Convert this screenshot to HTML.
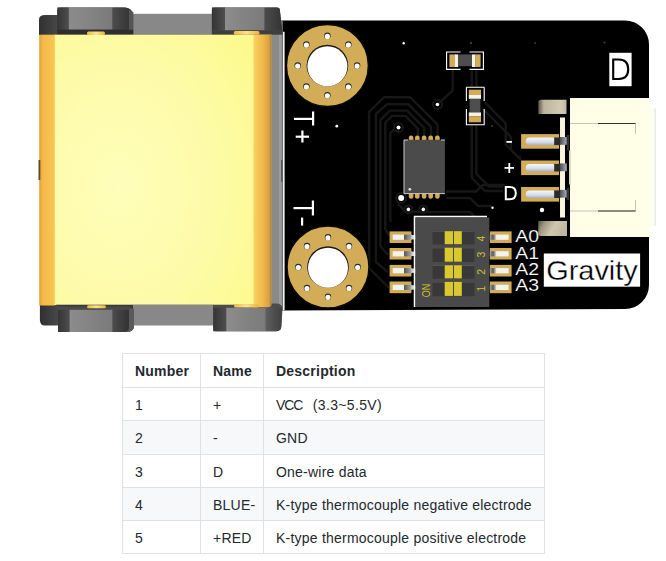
<!DOCTYPE html>
<html><head><meta charset="utf-8">
<style>
html,body{margin:0;padding:0;background:#fff;width:666px;height:561px;overflow:hidden;position:relative;font-family:"Liberation Sans",sans-serif;}
svg.pcb{position:absolute;left:0;top:0;}
table{position:absolute;left:122px;top:353px;border-collapse:collapse;font-size:14px;color:#24292e;}
td,th{border:1px solid #dfe2e5;padding:2px 0 0 12px;height:auto;text-align:left;white-space:nowrap;}
th{font-weight:bold;}
tr.g td{background:#f6f8fa;}
td,th{letter-spacing:0.22px;}
</style></head><body>
<svg class="pcb" width="666" height="340" viewBox="0 0 666 340">
<defs>
<radialGradient id="gY" cx="0.32" cy="0.56" r="0.85" fx="0.32" fy="0.56">
<stop offset="0" stop-color="#fffeba"/><stop offset="0.55" stop-color="#fdfba8"/><stop offset="1" stop-color="#fcfa8c"/></radialGradient>
<linearGradient id="gDk" x1="0" x2="1"><stop offset="0" stop-color="#303030"/><stop offset="1" stop-color="#484848"/></linearGradient>
<linearGradient id="gNutL" x1="0" x2="1"><stop offset="0" stop-color="#2e2e2e"/><stop offset="0.15" stop-color="#505050"/><stop offset="0.8" stop-color="#444"/><stop offset="1" stop-color="#2f2f2f"/></linearGradient>
<linearGradient id="gFace" x1="0" x2="1"><stop offset="0" stop-color="#8c8c8c"/><stop offset="1" stop-color="#7a7a7a"/></linearGradient>
<linearGradient id="gSL" x1="0" x2="1"><stop offset="0" stop-color="#353535"/><stop offset="1" stop-color="#4e4e4e"/></linearGradient>
<linearGradient id="gSR" x1="0" x2="1"><stop offset="0" stop-color="#4c4c4c"/><stop offset="1" stop-color="#333"/></linearGradient>
<linearGradient id="gSR2" x1="0" x2="1"><stop offset="0" stop-color="#5e5e5e"/><stop offset="1" stop-color="#404040"/></linearGradient>
<linearGradient id="gBump" x1="0" x2="1"><stop offset="0" stop-color="#f0b848"/><stop offset="0.5" stop-color="#fbe48a"/><stop offset="1" stop-color="#eab040"/></linearGradient>
<linearGradient id="gOL" x1="0" x2="1"><stop offset="0" stop-color="#e2a038"/><stop offset="0.25" stop-color="#f4ba48"/><stop offset="1" stop-color="#f8c654"/></linearGradient>
<linearGradient id="gOR" x1="0" x2="1"><stop offset="0" stop-color="#fad264"/><stop offset="0.5" stop-color="#f2b848"/><stop offset="0.85" stop-color="#d9a040"/><stop offset="1" stop-color="#9a7a40"/></linearGradient>
<linearGradient id="gNut" x1="0" x2="1"><stop offset="0" stop-color="#333"/><stop offset="1" stop-color="#4a4a4a"/></linearGradient>
<linearGradient id="gPin" x1="0" y1="0" x2="0" y2="1"><stop offset="0" stop-color="#f4f6fc"/><stop offset="0.6" stop-color="#d8dcea"/><stop offset="1" stop-color="#a8b0c4"/></linearGradient>
<linearGradient id="gLeadL" x1="0" x2="1"><stop offset="0" stop-color="#555"/><stop offset="1" stop-color="#b0b0b0"/></linearGradient>
<linearGradient id="gLeadR" x1="0" x2="1"><stop offset="0" stop-color="#a8a8a8"/><stop offset="0.5" stop-color="#555"/><stop offset="1" stop-color="#ddd"/></linearGradient>
<linearGradient id="gBlk" x1="0" x2="1"><stop offset="0" stop-color="#4a4e58"/><stop offset="1" stop-color="#a8acb6"/></linearGradient>
<linearGradient id="gTab" x1="0" y1="0" x2="1" y2="0"><stop offset="0" stop-color="#5a5548"/><stop offset="0.2" stop-color="#bdb59e"/><stop offset="0.8" stop-color="#d2cab2"/><stop offset="1" stop-color="#c0b8a0"/></linearGradient>
<linearGradient id="gTab2" x1="0" y1="0" x2="1" y2="0.3"><stop offset="0" stop-color="#5a5548"/><stop offset="0.25" stop-color="#9f9782"/><stop offset="0.6" stop-color="#cfc7ae"/><stop offset="1" stop-color="#bfb79f"/></linearGradient>
</defs>
<!-- PCB board -->
<path d="M282,20.5 H625 A24,24 0 0 1 649,44.5 V285 A24,24 0 0 1 625,309 L282,310.5 Z" fill="#000"/>
<!-- traces -->
<g fill="none" stroke="#171717" stroke-width="2.4" stroke-linejoin="round">
<path d="M390.3,222 V133 L395,128.5"/>
<path d="M369.1,268 V111.8 L384.1,97.2 H410 L437.5,124.5 V136"/>
<path d="M375.9,252 V114 L386.8,104.3 H408.5 L431,126.8 V136"/>
<path d="M380.4,240 V120 L389.8,110.6 H407 L424.3,128 V136"/>
<path d="M385.3,230 V123 L391.9,115.9 H405.5 L417.8,128.5 V136"/>
<path d="M369.1,268 L389,288"/>
<path d="M375.9,252 V262 L388,272"/>
<path d="M380.4,240 V246 L388,255"/>
<path d="M385.3,230 L390,236"/>
<path d="M452.7,70 V90.3 L437.5,104.6"/>
<path d="M471.8,70 V87 M476.4,70 V87"/>
<path d="M471.8,124.5 V178 L485,191 H503"/>
<path d="M476.4,124.5 V174 L489,186.5 H503"/>
<path d="M484.5,102 L505.7,123.5 V144.5 L518,157 H521"/>
<path d="M483,109 L511,137 V150 L521,160"/>
<path d="M446,191.5 H476 L483,185 H505"/>
<path d="M446,198 H470 L478,206 H492"/>
<path d="M398,204 L406,212 H470 L488,230"/>
</g>
<g fill="none" stroke="#171717" stroke-width="2">
<circle cx="398.4" cy="127.5" r="4.5"/><circle cx="437.5" cy="104.6" r="4.5"/>
<circle cx="408.4" cy="209.4" r="4"/><circle cx="423.3" cy="209.4" r="4"/><circle cx="401.2" cy="198" r="5"/>
</g>
<!-- pads -->
<circle cx="327.4" cy="65.5" r="41" fill="#d3ac58" stroke="#0a0a0a" stroke-width="1.5"/>
<circle cx="327.4" cy="65.5" r="20.8" fill="#1a1a1a"/><circle cx="327.4" cy="66.3" r="20" fill="#fff"/>
<circle cx="327.4" cy="35.8" r="3.2" fill="#2a2a2a"/><circle cx="327.4" cy="36.4" r="2.6" fill="#fff"/>
<circle cx="348.4" cy="44.5" r="3.2" fill="#2a2a2a"/><circle cx="348.4" cy="45.1" r="2.6" fill="#fff"/>
<circle cx="357.1" cy="65.5" r="3.2" fill="#2a2a2a"/><circle cx="357.1" cy="66.1" r="2.6" fill="#fff"/>
<circle cx="348.4" cy="86.5" r="3.2" fill="#2a2a2a"/><circle cx="348.4" cy="87.1" r="2.6" fill="#fff"/>
<circle cx="327.4" cy="95.2" r="3.2" fill="#2a2a2a"/><circle cx="327.4" cy="95.8" r="2.6" fill="#fff"/>
<circle cx="306.4" cy="86.5" r="3.2" fill="#2a2a2a"/><circle cx="306.4" cy="87.1" r="2.6" fill="#fff"/>
<circle cx="297.7" cy="65.5" r="3.2" fill="#2a2a2a"/><circle cx="297.7" cy="66.1" r="2.6" fill="#fff"/>
<circle cx="306.4" cy="44.5" r="3.2" fill="#2a2a2a"/><circle cx="306.4" cy="45.1" r="2.6" fill="#fff"/>
<circle cx="328" cy="267" r="41" fill="#d3ac58" stroke="#0a0a0a" stroke-width="1.5"/>
<circle cx="328" cy="267" r="20.8" fill="#1a1a1a"/><circle cx="328" cy="267.8" r="20" fill="#fff"/>
<circle cx="328.0" cy="237.3" r="3.2" fill="#2a2a2a"/><circle cx="328.0" cy="237.9" r="2.6" fill="#fff"/>
<circle cx="349.0" cy="246.0" r="3.2" fill="#2a2a2a"/><circle cx="349.0" cy="246.6" r="2.6" fill="#fff"/>
<circle cx="357.7" cy="267.0" r="3.2" fill="#2a2a2a"/><circle cx="357.7" cy="267.6" r="2.6" fill="#fff"/>
<circle cx="349.0" cy="288.0" r="3.2" fill="#2a2a2a"/><circle cx="349.0" cy="288.6" r="2.6" fill="#fff"/>
<circle cx="328.0" cy="296.7" r="3.2" fill="#2a2a2a"/><circle cx="328.0" cy="297.3" r="2.6" fill="#fff"/>
<circle cx="307.0" cy="288.0" r="3.2" fill="#2a2a2a"/><circle cx="307.0" cy="288.6" r="2.6" fill="#fff"/>
<circle cx="298.3" cy="267.0" r="3.2" fill="#2a2a2a"/><circle cx="298.3" cy="267.6" r="2.6" fill="#fff"/>
<circle cx="307.0" cy="246.0" r="3.2" fill="#2a2a2a"/><circle cx="307.0" cy="246.6" r="2.6" fill="#fff"/>
<!-- T labels -->
<g fill="#fff">
<rect x="294" y="117.8" width="20" height="2.2"/><rect x="312" y="111.5" width="2.2" height="14"/>
<rect x="295.7" y="135.6" width="13.3" height="2.2"/><rect x="301.3" y="130.5" width="2.2" height="12"/>
<rect x="293.5" y="207" width="20" height="2.2"/><rect x="311.8" y="200.5" width="2.2" height="15"/>
<rect x="301" y="217.6" width="2.2" height="8"/>
</g>
<!-- vias -->
<g fill="#fff">
<circle cx="403.7" cy="43.2" r="1.2"/><circle cx="437.4" cy="104.5" r="1.8"/><circle cx="398.5" cy="127.5" r="2"/>
<circle cx="400" cy="128.4" r="0"/><circle cx="401.2" cy="198" r="3"/><circle cx="408.4" cy="209.4" r="1.8"/><circle cx="423.3" cy="209.4" r="1.8"/>
<circle cx="542" cy="210" r="2.2"/><circle cx="336.8" cy="126.2" r="1.4"/><circle cx="492.5" cy="207.8" r="1.2"/>
</g>
<g fill="#3a3a3a"><circle cx="471" cy="43" r="1.2"/><circle cx="492" cy="126" r="1"/><circle cx="604.5" cy="42.6" r="1.1"/><circle cx="535" cy="43" r="1"/></g>
<!-- horizontal resistor -->
<g fill="none" stroke="#fff" stroke-width="1.1">
<path d="M460.5,52 H446.6 V69.4 H460.5"/>
<path d="M469.5,52 H483.4 V69.4 H469.5"/>
<path d="M466.4,87.3 V101 M484.2,87.3 V101 M466.4,87.3 H484.2"/>
<path d="M466.4,109 V124.8 H484.2 V109"/>
</g>
<rect x="449.4" y="54.4" width="6.5" height="12.6" fill="#d3ac58"/>
<rect x="455" y="54.4" width="3.2" height="12.6" fill="#f6f2e8"/>
<rect x="458" y="54.4" width="14" height="11.8" fill="#4e4e4e"/>
<rect x="472" y="54.4" width="3.6" height="12.6" fill="#f6f2e8"/>
<rect x="475.4" y="54.4" width="5.2" height="12.6" fill="#d3ac58"/>
<!-- vertical resistor -->
<rect x="468.8" y="89.7" width="12.2" height="5.5" fill="#d3ac58"/>
<rect x="468.8" y="95" width="12.2" height="3.9" fill="#f6f2e8"/>
<rect x="469.6" y="98.8" width="10.8" height="13.6" fill="#4e4e4e"/>
<rect x="468.8" y="112.4" width="12.2" height="3.9" fill="#f6f2e8"/>
<rect x="468.8" y="116.2" width="12.2" height="6.1" fill="#d3ac58"/>
<!-- chip -->
<rect x="408.8" y="135.4" width="4.6" height="7" rx="2.2" fill="#d3ac58"/><rect x="408.8" y="191.8" width="4.6" height="7" rx="2.2" fill="#d3ac58"/>
<rect x="415.0" y="135.4" width="4.6" height="7" rx="2.2" fill="#d3ac58"/><rect x="415.0" y="191.8" width="4.6" height="7" rx="2.2" fill="#d3ac58"/>
<rect x="421.8" y="135.4" width="4.6" height="7" rx="2.2" fill="#d3ac58"/><rect x="421.8" y="191.8" width="4.6" height="7" rx="2.2" fill="#d3ac58"/>
<rect x="428.4" y="135.4" width="4.6" height="7" rx="2.2" fill="#d3ac58"/><rect x="428.4" y="191.8" width="4.6" height="7" rx="2.2" fill="#d3ac58"/>
<rect x="435.1" y="135.4" width="4.6" height="7" rx="2.2" fill="#d3ac58"/><rect x="435.1" y="191.8" width="4.6" height="7" rx="2.2" fill="#d3ac58"/>
<rect x="403.9" y="139.8" width="41" height="53.8" fill="#4b4b4b"/>
<path d="M404,140 V193.6 H444.9" fill="none" stroke="#c8c8c8" stroke-width="1"/>
<path d="M404,140 H408 M441,140 H444.9" fill="none" stroke="#c8c8c8" stroke-width="1"/>
<circle cx="409.8" cy="189.3" r="1.4" fill="#e0e0e0"/>
<!-- +,-,D labels -->
<g fill="#fff">
<rect x="506.5" y="141" width="5.5" height="1.8"/>
<rect x="504.5" y="167" width="9.5" height="1.8"/><rect x="508.4" y="163" width="1.8" height="10"/>
</g>
<path d="M505.8,187 H509.8 C514.6,187 515.8,190.2 515.8,193.2 C515.8,196.2 514.6,199.2 509.8,199.2 H505.8 Z" fill="none" stroke="#fff" stroke-width="2"/>
<!-- JST connector pins -->
<path d="M538.3,101.5 Q538.3,99.7 541,99.7 H566.5 V113.9 H538.3 Z" fill="url(#gTab)"/>
<path d="M538.3,221 H567 V236 H541 Q538.3,236 538.3,234 Z" fill="url(#gTab2)"/>
<rect x="560" y="117.5" width="5" height="100" fill="#f8f4dc"/>
<rect x="521.1" y="134.1" width="38" height="14.6" fill="#d3ac58"/>
<rect x="525.8" y="137.5" width="30" height="7.6" rx="3.8" fill="url(#gPin)"/>
<rect x="554.2" y="137.5" width="6" height="7.6" fill="#2a2a2a"/>
<rect x="521.1" y="160.5" width="38" height="14.6" fill="#d3ac58"/>
<rect x="525.8" y="163.9" width="30" height="7.6" rx="3.8" fill="url(#gPin)"/>
<rect x="554.2" y="163.9" width="6" height="7.6" fill="#2a2a2a"/>
<rect x="521.1" y="187" width="38" height="14.6" fill="#d3ac58"/>
<rect x="525.8" y="190.4" width="30" height="7.6" rx="3.8" fill="url(#gPin)"/>
<rect x="554.2" y="190.4" width="6" height="7.6" fill="#2a2a2a"/>
<rect x="560" y="137" width="6.8" height="7.8" fill="url(#gBlk)"/>
<rect x="560" y="163.4" width="6.8" height="7.8" fill="url(#gBlk)"/>
<rect x="560" y="189.9" width="6.8" height="7.8" fill="url(#gBlk)"/>
<!-- JST body -->
<rect x="648" y="108.5" width="7.5" height="117.2" fill="#fdfdf2"/>
<rect x="654.6" y="108.5" width="1" height="117.2" fill="#dedede"/>
<rect x="570" y="98" width="79" height="139" fill="#fffee6"/>
<rect x="566.8" y="135" width="2.4" height="15.5" fill="#333"/>
<rect x="566.8" y="188" width="2.4" height="12" fill="#333"/>
<rect x="569" y="150.5" width="1.8" height="34" fill="#d8d4c0"/>
<path d="M570,123.5 H635.5 V134" fill="none" stroke="#aaa" stroke-width="0.7"/>
<path d="M598,123.5 H635.5" fill="none" stroke="#333" stroke-width="1.1"/>
<path d="M570,211 H635.5 V200" fill="none" stroke="#aaa" stroke-width="0.7"/>
<path d="M598,211 H635.5" fill="none" stroke="#333" stroke-width="1.1"/>
<!-- D label -->
<rect x="609.3" y="52.8" width="22.3" height="33.4" fill="#fff"/>
<path d="M613.2,59.5 H618.8 C625.5,59.5 628.2,63.5 628.2,69.3 C628.2,75 625.5,79 618.8,79 H613.2 Z" fill="none" stroke="#000" stroke-width="2.1"/>
<!-- DIP switch pins -->
<rect x="389.6" y="231.4" width="21.8" height="11.6" fill="#d3ac58"/><rect x="392.7" y="234.6" width="12" height="5.2" fill="#f2f2ee"/><rect x="404" y="234.6" width="8" height="5.2" fill="url(#gLeadL)"/><rect x="411.4" y="235.0" width="4" height="4.4" fill="#cfcfcf"/>
<rect x="489.8" y="231.4" width="21.8" height="11.6" fill="#d3ac58"/><rect x="496" y="234.6" width="12.6" height="5.2" fill="#f2f2ee"/><rect x="489.8" y="234.6" width="6.5" height="5.2" fill="url(#gLeadR)"/>
<rect x="389.6" y="248" width="21.8" height="11.5" fill="#d3ac58"/><rect x="392.7" y="251.2" width="12" height="5.2" fill="#f2f2ee"/><rect x="404" y="251.2" width="8" height="5.2" fill="url(#gLeadL)"/><rect x="411.4" y="251.6" width="4" height="4.4" fill="#cfcfcf"/>
<rect x="489.8" y="248" width="21.8" height="11.5" fill="#d3ac58"/><rect x="496" y="251.2" width="12.6" height="5.2" fill="#f2f2ee"/><rect x="489.8" y="251.2" width="6.5" height="5.2" fill="url(#gLeadR)"/>
<rect x="389.6" y="264.9" width="21.8" height="11.6" fill="#d3ac58"/><rect x="392.7" y="268.1" width="12" height="5.2" fill="#f2f2ee"/><rect x="404" y="268.1" width="8" height="5.2" fill="url(#gLeadL)"/><rect x="411.4" y="268.5" width="4" height="4.4" fill="#cfcfcf"/>
<rect x="489.8" y="264.9" width="21.8" height="11.6" fill="#d3ac58"/><rect x="496" y="268.1" width="12.6" height="5.2" fill="#f2f2ee"/><rect x="489.8" y="268.1" width="6.5" height="5.2" fill="url(#gLeadR)"/>
<rect x="389.6" y="281.5" width="21.8" height="11.7" fill="#d3ac58"/><rect x="392.7" y="284.8" width="12" height="5.2" fill="#f2f2ee"/><rect x="404" y="284.8" width="8" height="5.2" fill="url(#gLeadL)"/><rect x="411.4" y="285.2" width="4" height="4.4" fill="#cfcfcf"/>
<rect x="489.8" y="281.5" width="21.8" height="11.7" fill="#d3ac58"/><rect x="496" y="284.8" width="12.6" height="5.2" fill="#f2f2ee"/><rect x="489.8" y="284.8" width="6.5" height="5.2" fill="url(#gLeadR)"/>
<!-- DIP body -->
<path d="M414.6,307 V216.6 H487" fill="none" stroke="#fff" stroke-width="1.7"/>
<rect x="415.6" y="217.4" width="73.7" height="89.6" fill="#4a4a4a"/>
<rect x="432.6" y="230.9" width="41.9" height="13.6" fill="#383838"/><rect x="432.6" y="230.9" width="41.9" height="1" fill="#555"/>
<rect x="432.6" y="247.4" width="41.9" height="14.6" fill="#383838"/><rect x="432.6" y="247.4" width="41.9" height="1" fill="#555"/>
<rect x="432.6" y="265" width="41.9" height="13.7" fill="#383838"/><rect x="432.6" y="265" width="41.9" height="1" fill="#555"/>
<rect x="432.6" y="281.6" width="41.9" height="14.6" fill="#383838"/><rect x="432.6" y="281.6" width="41.9" height="1" fill="#555"/>
<rect x="444.7" y="231.2" width="8.3" height="13.0" fill="#d9c92e"/><rect x="453.9" y="231.2" width="7.9" height="13.0" fill="#d9c92e"/>
<rect x="444.7" y="247.7" width="8.3" height="14.0" fill="#d9c92e"/><rect x="453.9" y="247.7" width="7.9" height="14.0" fill="#d9c92e"/>
<rect x="444.7" y="265.3" width="8.3" height="13.1" fill="#d9c92e"/><rect x="453.9" y="265.3" width="7.9" height="13.1" fill="#d9c92e"/>
<rect x="444.7" y="281.9" width="8.3" height="14.0" fill="#d9c92e"/><rect x="453.9" y="281.9" width="7.9" height="14.0" fill="#d9c92e"/>
<g fill="#d2c22e" font-family="Liberation Sans" font-size="10.5">
<text transform="translate(485.3,238.7) rotate(-90)" text-anchor="middle">4</text>
<text transform="translate(485.3,254.7) rotate(-90)" text-anchor="middle">3</text>
<text transform="translate(485.3,271.8) rotate(-90)" text-anchor="middle">2</text>
<text transform="translate(485.3,288.7) rotate(-90)" text-anchor="middle">1</text>
<text transform="translate(429.6,290.4) rotate(-90)" text-anchor="middle" font-size="10" textLength="13.6" lengthAdjust="spacingAndGlyphs">ON</text>
</g>
<!-- A0-A3 -->
<g fill="#fff" font-family="Liberation Sans" font-size="17" stroke="#000" stroke-width="0.15">
<text x="515.3" y="242.4" textLength="23.8" lengthAdjust="spacingAndGlyphs">A0</text>
<text x="515.3" y="258.5" textLength="23.8" lengthAdjust="spacingAndGlyphs">A1</text>
<text x="515.3" y="275" textLength="23.8" lengthAdjust="spacingAndGlyphs">A2</text>
<text x="515.3" y="291" textLength="23.8" lengthAdjust="spacingAndGlyphs">A3</text>
</g>
<!-- Gravity -->
<rect x="543.8" y="253.5" width="96.3" height="33.2" fill="#fff"/>
<text x="546.2" y="280.3" font-family="Liberation Sans" font-size="28" fill="#000" stroke="#fff" stroke-width="0.3" textLength="91.6" lengthAdjust="spacingAndGlyphs">Gravity</text>

<!-- thermocouple terminal -->
<rect x="56" y="30" width="200" height="280" fill="#3a3a3a"/>
<rect x="282.8" y="31.8" width="1.8" height="278.5" fill="#f4f4f4"/>
<rect x="271.7" y="20" width="11" height="290" fill="#8a8a8a"/>
<rect x="279" y="20" width="2.5" height="289" fill="#9c9c9c"/>
<rect x="133" y="13.8" width="80" height="21" fill="#888"/>
<rect x="133" y="305" width="80" height="20.5" fill="#888"/>
<path d="M39,19.5 Q39,14.9 45,14.9 H58 V35 H39 Z" fill="url(#gDk)"/>
<path d="M39.9,305 H58 V325.5 H45 Q39.9,325.5 39.9,320 Z" fill="url(#gDk)"/>
<!-- nuts -->
<path d="M57.3,11 Q57.3,7.4 61,7.4 H124 Q129,7.4 133.2,12.5 V34 H57.3 Z" fill="#3c3c3c"/>
<rect x="57.3" y="7.4" width="11.5" height="22.3" fill="url(#gSL)"/>
<rect x="68.8" y="7.4" width="43.8" height="22.3" fill="url(#gFace)"/>
<path d="M112.6,7.4 H124 Q129,7.4 131,10 V29.7 H112.6 Z" fill="url(#gSR)"/>
<path d="M129,9.5 L133.2,12.5 V34 H129 Z" fill="#555"/>
<rect x="57.3" y="29.7" width="75.9" height="4.3" fill="#2e2e2e"/>
<path d="M211.9,11 Q211.9,7.4 215,7.4 H277 Q279.5,7.6 279.7,9 L282.4,31.5 V34.5 H211.9 Z" fill="#4a4a4a"/>
<rect x="211.9" y="7.4" width="13.1" height="23" fill="url(#gSL)"/>
<rect x="225" y="7.4" width="39.6" height="23" fill="url(#gFace)"/>
<path d="M264.6,7.4 H277 Q279.5,7.6 279.7,9 L282.2,30.4 H264.6 Z" fill="url(#gSR)"/>
<path d="M211.9,30.4 H282.2 L282.4,34.5 H211.9 Z" fill="#3e3e3e"/>
<path d="M58,306.5 H129 L134,309 V326 Q134,332 126,332 H61 Q58,332 58,329 Z" fill="#4a4a4a"/>
<rect x="58" y="309.8" width="11.6" height="22.2" fill="url(#gSL)"/>
<rect x="69.6" y="309.8" width="43" height="22.2" fill="url(#gFace)"/>
<path d="M112.6,309.8 H129 V326 Q129,332 123,332 H112.6 Z" fill="url(#gSR)"/>
<path d="M129,309 L134,309 V326 Q134,330 129,332 Z" fill="#5a5a5a"/>
<path d="M213.2,307 Q213.2,303.5 217,303.5 H276 Q282.5,303.5 282.5,309 L281.3,326.5 Q281,331.3 276,331.3 H216 Q213.2,331.3 213.2,328 Z" fill="#4c4c4c"/>
<rect x="213.2" y="307.8" width="13.1" height="23.5" fill="url(#gSL)"/>
<rect x="226.3" y="307.8" width="39.5" height="23.5" fill="url(#gFace)"/>
<path d="M265.8,307.8 H282 L281.3,326.5 Q281,331.3 276,331.3 H265.8 Z" fill="url(#gSR2)"/>
<rect x="54" y="34.7" width="200" height="270" fill="url(#gY)"/>
<rect x="39.2" y="34.7" width="15.6" height="270.8" fill="url(#gOL)"/>
<path d="M253.5,34.7 H271.8 V304 Q271.8,307.2 268,307.2 H253.5 Z" fill="url(#gOR)"/>
<rect x="38.5" y="160" width="1.8" height="20" fill="#5a4a2a"/>
<rect x="281" y="160" width="1.8" height="22" fill="#5a5a5a"/>
<rect x="87" y="31.4" width="18" height="3.5" rx="1.5" fill="url(#gBump)"/>
<rect x="233.8" y="31" width="25.7" height="3.7" rx="1.5" fill="url(#gBump)"/>
<rect x="87" y="305.2" width="19" height="3" rx="1.5" fill="url(#gBump)"/>
<rect x="234" y="304.3" width="25" height="3.2" rx="1.5" fill="url(#gBump)"/>
</svg>

<table>
<tr style="height:33.8px"><th style="width:65px">Number</th><th style="width:50px">Name</th><th style="width:268px">Description</th></tr>
<tr style="height:33.2px"><td>1</td><td>+</td><td><span style="letter-spacing:-1.1px">VCC</span><span style="margin-left:10.5px;letter-spacing:0.35px">(3.3~5.5V)</span></td></tr>
<tr style="height:33.7px" class="g"><td>2</td><td>-</td><td>GND</td></tr>
<tr style="height:33.1px"><td>3</td><td>D</td><td>One-wire data</td></tr>
<tr style="height:33.2px" class="g"><td>4</td><td>BLUE-</td><td>K-type thermocouple negative electrode</td></tr>
<tr style="height:33.5px"><td>5</td><td>+RED</td><td>K-type thermocouple positive electrode</td></tr>
</table>
</body></html>
